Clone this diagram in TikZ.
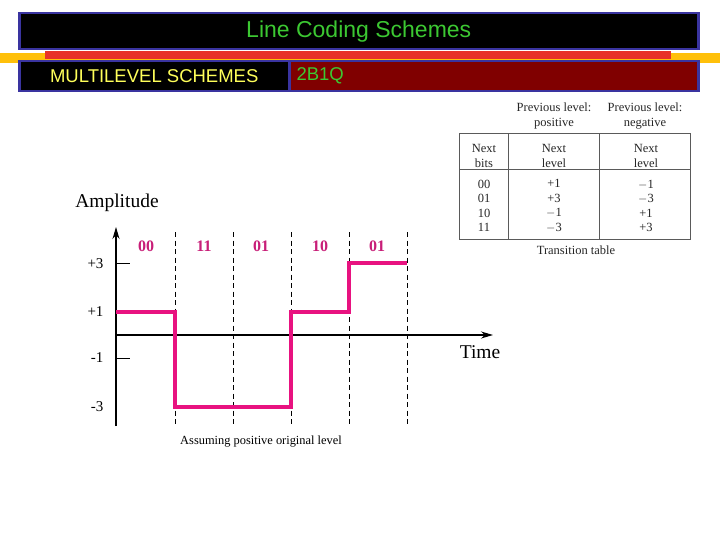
\documentclass[tikz,border=0pt]{standalone}
\usepackage{fontspec}
\setmainfont{Liberation Serif}
\newfontfamily\arialfont{Liberation Sans}
\usepackage{tikz}
\usetikzlibrary{arrows.meta, positioning}
\definecolor{frameBlue}{RGB}{58,52,160}
\definecolor{titleGreen}{RGB}{60,200,50}
\definecolor{subYellow}{RGB}{255,255,90}
\definecolor{barRed}{RGB}{232,50,40}
\definecolor{barGold}{RGB}{255,192,10}
\definecolor{boxMaroon}{RGB}{128,0,0}
\definecolor{sigPink}{RGB}{232,18,128}
\definecolor{bitPink}{RGB}{200,30,120}
\definecolor{tabGray}{RGB}{90,90,90}
\tikzset{
  headBox/.style={draw=frameBlue, line width=2.5pt, fill=black,
                  inner sep=0pt, anchor=north west},
  headText/.style={font=\arialfont\fontsize{23}{26}\selectfont, text=titleGreen},
  subText/.style={font=\arialfont\fontsize{18.5}{21}\selectfont},
  axis/.style={draw=black, line width=1.2pt, -{Stealth[length=12pt, width=7pt]}},
  tick/.style={draw=black, line width=0.9pt},
  tickLab/.style={font=\fontsize{15}{17}\selectfont, anchor=east},
  bitLab/.style={font=\bfseries\fontsize{16}{18}\selectfont, text=bitPink},
  slot/.style={draw=black, line width=1pt, dash pattern=on 5pt off 3.5pt},
  signal/.style={draw=sigPink, line width=4pt, line join=miter},
  tabText/.style={font=\fontsize{12.5}{13}\selectfont, text=black!85,
                  align=center, inner sep=0pt},
  tabLine/.style={draw=tabGray, line width=1pt},
}
\begin{document}
\begin{tikzpicture}[x=1pt, y=-1pt]
    \useasboundingbox[fill=white] (0,0) rectangle (720,540);
    %% header bars
    \fill[barGold] (0,53) rectangle (720,63);
    \fill[barRed] (45,51) rectangle (671,59);
    \node[headBox, minimum width=679, minimum height=36] (title) at (18,12) {};
    \node[headText] at (title.center) {Line Coding Schemes};
    \node[headBox, minimum width=270, minimum height=30] (topic) at (18,60) {};
    \node[subText, text=subYellow] at (topic.center) {MULTILEVEL SCHEMES};
    \node[headBox, fill=boxMaroon, minimum width=409, minimum height=30] (scheme) at (288,60) {};
    \node[subText, text=titleGreen, anchor=west] at ([xshift=5pt]scheme.west) {2B1Q};
    %% axes
    \coordinate (origin) at (116,335);
    \coordinate (yTop) at (116,227);
    \coordinate (yBot) at (116,426);
    \coordinate (xEnd) at (493,335);
    \draw[axis] (yBot) -- (yTop);
    \draw[axis] (origin) -- (xEnd);
    \node[font=\fontsize{19.5}{21}\selectfont] (amp) at (117,203) {Amplitude};
    \node[font=\fontsize{19.5}{21}\selectfont] (time) at (480,352) {Time};
    %% levels
    \coordinate (p3) at (116,263);
    \coordinate (m1) at (116,358);
    \draw[tick] (p3) -- ++(14,0);
    \draw[tick] (m1) -- ++(14,0);
    \node[tickLab] at (107,264) {+3};
    \node[tickLab] at (107,312) {+1};
    \node[tickLab] at (107,358) {-1};
    \node[tickLab] at (107,407) {-3};
    %% slots
    \foreach \x in {175,233,291,349,407}
      \draw[slot] (\x,232) -- (\x,426);
    \foreach \x/\b in {146/00,204/11,261/01,320/10,377/01}
      \node[bitLab] at (\x,246) {\b};
    %% signal
    \draw[signal] (116,312) -| (175,407) -| (291,312) -| (349,263) -- (407,263);
    \node[font=\fontsize{12.4}{13}\selectfont] (note) at (261,442) {Assuming positive original level};
    %% transition table
    \draw[tabLine] (459,134) rectangle (690,239);
    \draw[tabLine] (459,170) -- (690,170);
    \draw[tabLine] (508,134) -- (508,239);
    \draw[tabLine] (599,134) -- (599,239);
    \node[tabText] (pos) at (554,116) {Previous level:\\[2pt]positive};
    \node[tabText] (neg) at (645,116) {Previous level:\\[2pt]negative};
    \node[tabText] (hBits) at (484,156) {Next\\[2pt]bits};
    \node[tabText] (hPos) at (554,156) {Next\\[2pt]level};
    \node[tabText] (hNeg) at (646,156) {Next\\[2pt]level};
    \node[tabText] (cBits) at (484,206) {00\\[1.5pt]01\\[1.5pt]10\\[1.5pt]11};
    \node[tabText] (cPos) at (554,206) {+1\\[1.5pt]+3\\[1.5pt]$-$1\\[1.5pt]$-$3};
    \node[tabText] (cNeg) at (646,206) {$-$1\\[1.5pt]$-$3\\[1.5pt]+1\\[1.5pt]+3};
    \node[tabText] (cap) at (576,250) {Transition table};
\end{tikzpicture}
\end{document}
